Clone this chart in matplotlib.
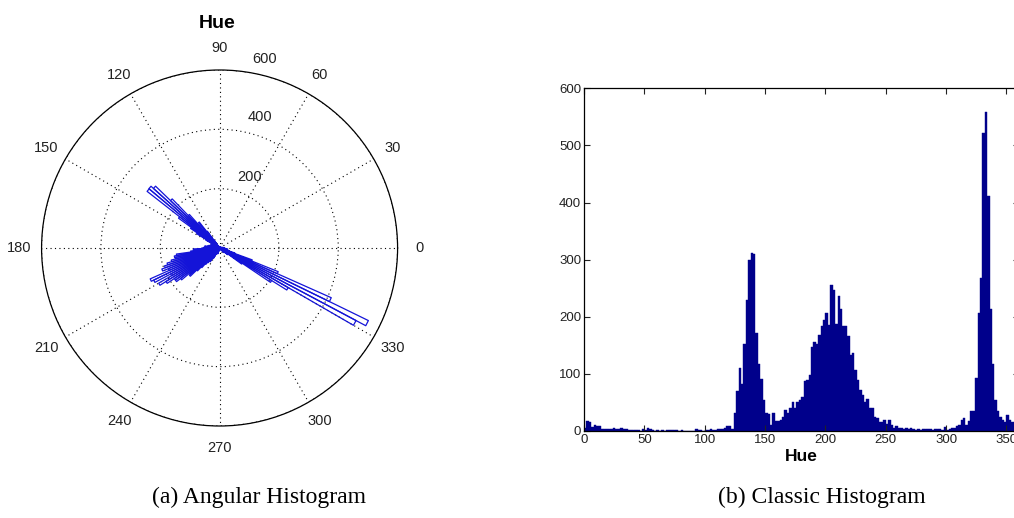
import numpy as np
import matplotlib
matplotlib.use("Agg")
import matplotlib.pyplot as plt

# hue histogram, 2-degree bins starting at 0
bin_width = 2
hue_counts = [
    6, 17, 16, 7, 11, 9, 8, 3, 3, 3, 3, 4, 5, 3, 4, 5, 3, 3, 2, 1,
    1, 2, 1, 0, 4, 2, 5, 4, 1, 0, 1, 0, 2, 0, 1, 1, 2, 2, 1, 0,
    2, 0, 0, 0, 0, 0, 3, 1, 1, 0, 2, 1, 3, 2, 1, 3, 3, 3, 5, 9,
    8, 4, 32, 70, 111, 83, 152, 230, 300, 311, 310, 171, 118, 91, 54, 31, 29, 11, 32, 17,
    18, 19, 25, 37, 31, 41, 50, 40, 51, 54, 60, 88, 89, 98, 147, 155, 153, 168, 184, 195,
    207, 186, 256, 247, 187, 237, 213, 184, 184, 167, 133, 137, 107, 89, 72, 63, 51, 56, 40, 40,
    25, 23, 15, 15, 20, 13, 20, 11, 6, 8, 6, 5, 4, 5, 4, 5, 3, 2, 4, 2,
    3, 4, 3, 4, 2, 3, 4, 3, 2, 7, 2, 3, 5, 6, 8, 11, 20, 22, 10, 18,
    35, 35, 92, 207, 267, 521, 558, 412, 213, 117, 54, 35, 25, 19, 16, 28, 20, 15, 10,
]
hue_edges = np.arange(len(hue_counts)) * bin_width

angle_ticks = list(range(0, 360, 30))
r_ticks = [200, 400, 600]
hist_xticks = list(range(0, 351, 50))
hist_yticks = list(range(0, 601, 100))

plt.rcParams['font.family'] = ['Liberation Sans', 'DejaVu Sans']

fig = plt.figure(figsize=(10.14, 5.18), dpi=100)

# ---- (a) rose / angular histogram
ax1 = fig.add_axes([0.041, 0.1776, 0.3511, 0.6873], projection='polar')
for left, c in zip(hue_edges, hue_counts):
    t1 = np.deg2rad(left)
    t2 = np.deg2rad(left + bin_width)
    ax1.plot([t1, t1, t2, t2], [0, c, c, 0], color='#1414d8', lw=0.9)

ax1.set_ylim(0, 600)
ax1.set_yticks(r_ticks)
ax1.set_yticklabels([])
ax1.set_thetagrids(angle_ticks, [str(a) for a in angle_ticks], fontsize=10.5, color='#222222')
ax1.tick_params(axis='x', pad=9, length=0)
ax1.grid(True, linestyle=(0, (1, 3)), color='black', lw=0.8)
ax1.spines['polar'].set_linewidth(0.9)
ax1.spines['polar'].set_color('black')
for ang, r, lab in [(67, 260, '200'), (73, 461, '400'), (76.5, 655, '600')]:
    ax1.text(np.deg2rad(ang), r, lab, ha='center', va='center', fontsize=10.5,
             color='#222222', clip_on=False)
fig.text(0.214, 0.955, 'Hue', ha='center', va='center', fontsize=14, fontweight='bold')

# ---- (b) classic histogram
ax2 = fig.add_axes([0.576, 0.168, 0.4285, 0.6615])
ax2.bar(hue_edges, hue_counts, width=bin_width, align='edge', color='#00008b',
        edgecolor='#00008b', linewidth=0.3)
ax2.set_xlim(0, 360)
ax2.set_ylim(0, 600)
ax2.set_xticks(hist_xticks)
ax2.set_yticks(hist_yticks)
ax2.tick_params(direction='in', top=True, right=True, labelsize=9.5, length=4, pad=2,
                colors='#222222')
ax2.set_xlabel('Hue', fontsize=12.5, fontweight='bold', labelpad=2)
for s in ax2.spines.values():
    s.set_linewidth(0.9)

# captions
fig.text(0.255, 0.04, '(a) Angular Histogram', ha='center', va='center',
         fontsize=17, family='Liberation Serif')
fig.text(0.81, 0.04, '(b) Classic Histogram', ha='center', va='center',
         fontsize=17, family='Liberation Serif')

fig.savefig('out.png', dpi=100)
